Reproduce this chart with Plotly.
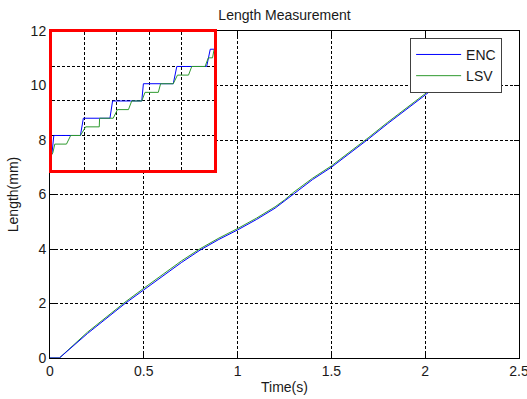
import plotly.graph_objects as go

# ---- main data (Time s, Length mm) ----
time_s = [0, 0.05, 0.2, 0.4, 0.5, 0.6, 0.7, 0.8, 0.9, 1.0, 1.1, 1.2, 1.25, 1.3, 1.4,
          1.5, 1.6, 1.7, 1.8, 1.9, 2.0, 2.1, 2.15]
enc_mm = [0, 0, 0.9, 2.0, 2.5, 3.0, 3.5, 3.96, 4.35, 4.70, 5.08, 5.5, 5.76, 6.05, 6.55,
          7.0, 7.52, 8.05, 8.6, 9.12, 9.65, 10.2, 10.5]
lsv_mm = [0, 0, 0.95, 2.05, 2.56, 3.06, 3.56, 4.01, 4.4, 4.75, 5.13, 5.55, 5.8, 6.09, 6.6,
          7.05, 7.57, 8.1, 8.65, 9.17, 9.7, 10.25, 10.55]

# ---- inset (zoomed) data ----
inset_enc_x = [0.0, 0.06, 0.88, 0.97, 1.79, 1.87, 2.77, 2.82, 3.74, 3.85, 4.77, 4.88, 5.0]
inset_enc_y = [0.45, 1.0, 1.0, 1.5, 1.5, 2.0, 2.0, 2.5, 2.5, 3.0, 3.0, 3.5, 3.5]
inset_lsv_x = [0.0, 0.03, 0.09, 0.45, 0.58, 0.88, 1.04, 1.46, 1.47, 1.89, 2.02, 2.36, 2.46,
               2.77, 2.87, 3.28, 3.35, 3.74, 3.87, 4.21, 4.31, 4.72, 4.82, 4.95, 5.0]
inset_lsv_y = [0.45, 0.5, 0.75, 0.75, 1.0, 1.0, 1.25, 1.25, 1.5, 1.5, 1.75, 1.75, 2.0,
               2.0, 2.25, 2.25, 2.5, 2.5, 2.75, 2.75, 3.0, 3.0, 3.25, 3.25, 3.5]

x_ticks = [0, 0.5, 1, 1.5, 2, 2.5]
x_ticktext = ["0", "0.5", "1", "1.5", "2", "2.5"]
y_ticks = [0, 2, 4, 6, 8, 10, 12]

BLUE = "#0000ff"
GREEN = "#2f9a2f"
FONT = "Liberation Sans, Arial, sans-serif"

fig = go.Figure()
fig.add_trace(go.Scatter(x=time_s, y=lsv_mm, mode="lines", name="LSV",
                         line=dict(color=GREEN, width=1), legendrank=2))
fig.add_trace(go.Scatter(x=time_s, y=enc_mm, mode="lines", name="ENC",
                         line=dict(color=BLUE, width=1), legendrank=1))
fig.add_trace(go.Scatter(x=inset_enc_x, y=inset_enc_y, mode="lines", showlegend=False,
                         line=dict(color=BLUE, width=1), xaxis="x2", yaxis="y2"))
fig.add_trace(go.Scatter(x=inset_lsv_x, y=inset_lsv_y, mode="lines", showlegend=False,
                         line=dict(color=GREEN, width=1), xaxis="x2", yaxis="y2"))

grid = dict(showgrid=True, gridcolor="#000000", gridwidth=1, griddash="3px,2px",
            zeroline=False)

fig.update_layout(
    template="none",
    width=527, height=399,
    margin=dict(l=50, r=8, t=31, b=41),
    paper_bgcolor="white", plot_bgcolor="white",
    font=dict(family=FONT, size=14, color="#1a1a1a"),
    title=dict(text="Length Measurement", x=0.5, xref="paper", xanchor="center",
               y=1 - 15 / 399, yref="container", yanchor="middle",
               font=dict(size=14, color="#1a1a1a")),
    xaxis=dict(domain=[0, 1], range=[0, 2.5], tickvals=x_ticks, ticktext=x_ticktext,
               ticks="inside", ticklen=5, tickcolor="#000", mirror="ticks",
               showline=True, linecolor="#000", linewidth=1, automargin=False,
               ticklabeloverflow="allow",
               title=dict(text="Time(s)", standoff=4, font=dict(size=14)), **grid),
    yaxis=dict(domain=[0, 1], range=[0, 12], tickvals=y_ticks,
               ticks="inside", ticklen=5, tickcolor="#000", mirror="ticks",
               showline=True, linecolor="#000", linewidth=1, automargin=False,
               ticklabeloverflow="allow",
               title=dict(text="Length(mm)", standoff=8, font=dict(size=14)), **grid),
    xaxis2=dict(domain=[0.004, 0.350], anchor="y2", range=[0, 5], dtick=1,
                showticklabels=False, ticks="", showline=True, mirror=True,
                linecolor="#ff0000", linewidth=3, automargin=False, **grid),
    yaxis2=dict(domain=[0.575, 0.997], anchor="x2", range=[0, 4], dtick=1,
                showticklabels=False, ticks="", showline=True, mirror=True,
                linecolor="#ff0000", linewidth=3, automargin=False, **grid),
    legend=dict(x=0.964, xanchor="right", y=0.979, yanchor="top",
                bgcolor="white", bordercolor="#404040", borderwidth=1,
                font=dict(size=14, color="#1a1a1a"), tracegroupgap=0,
                traceorder="normal", itemwidth=45),
    showlegend=True,
)

fig.write_html("out.html", config={"displayModeBar": False},
               post_script="document.body.style.margin='0';document.body.style.overflow='hidden';")
